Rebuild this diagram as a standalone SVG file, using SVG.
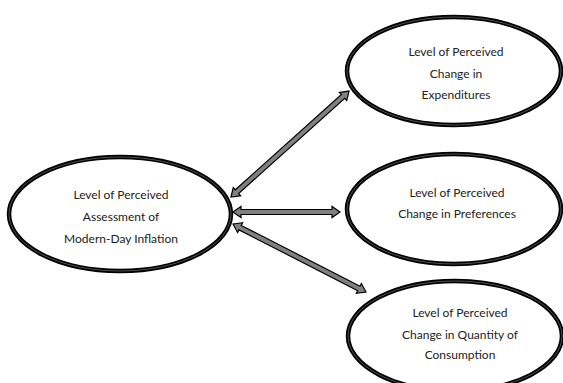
<svg xmlns="http://www.w3.org/2000/svg" width="563" height="383" viewBox="0 0 563 383">
<style>
.node ellipse.o{fill:#fff;stroke:#000;stroke-width:4.5}
.node ellipse.i{fill:none;stroke:#666;stroke-width:0.8}
.node text{font-family:Lato,"Liberation Sans",sans-serif;font-size:12px;fill:#222;text-anchor:middle}
.arr{fill:#808080;stroke:#000;stroke-width:1.2;stroke-linejoin:miter}
</style>
<rect width="563" height="383" fill="#fff"/>
<g id="connectors">
<polygon class="arr" transform="translate(231,197) rotate(-41.9)" points="0,0 8,-5.5 8,-2.5 150.6,-2.5 150.6,-5.5 158.6,0 150.6,5.5 150.6,2.5 8,2.5 8,5.5"/>
<polygon class="arr" transform="translate(233,212)" points="0,0 8,-5.5 8,-2.5 99,-2.5 99,-5.5 107,0 99,5.5 99,2.5 8,2.5 8,5.5"/>
<polygon class="arr" transform="translate(233,224) rotate(27.1)" points="0,0 8,-5.5 8,-2.5 141.4,-2.5 141.4,-5.5 149.4,0 141.4,5.5 141.4,2.5 8,2.5 8,5.5"/>
</g>
<g id="inflation" class="node">
<ellipse class="o" cx="120" cy="214" rx="111" ry="57"/>
<ellipse class="i" cx="120" cy="214" rx="111" ry="57"/>
<text x="121" y="199">Level of Perceived</text>
<text x="121" y="221">Assessment of</text>
<text x="121" y="243">Modern-Day Inflation</text>
</g>
<g id="expenditures" class="node">
<ellipse class="o" cx="454" cy="71" rx="107" ry="54"/>
<ellipse class="i" cx="454" cy="71" rx="107" ry="54"/>
<text x="456" y="56">Level of Perceived</text>
<text x="456" y="78">Change in</text>
<text x="456" y="99">Expenditures</text>
</g>
<g id="preferences" class="node">
<ellipse class="o" cx="454" cy="209" rx="107" ry="55"/>
<ellipse class="i" cx="454" cy="209" rx="107" ry="55"/>
<text x="457" y="197">Level of Perceived</text>
<text x="457" y="218">Change in Preferences</text>
</g>
<g id="quantity" class="node">
<ellipse class="o" cx="455" cy="336" rx="107" ry="55"/>
<ellipse class="i" cx="455" cy="336" rx="107" ry="55"/>
<text x="460" y="317">Level of Perceived</text>
<text x="460" y="339">Change in Quantity of</text>
<text x="460" y="359">Consumption</text>
</g>
</svg>
